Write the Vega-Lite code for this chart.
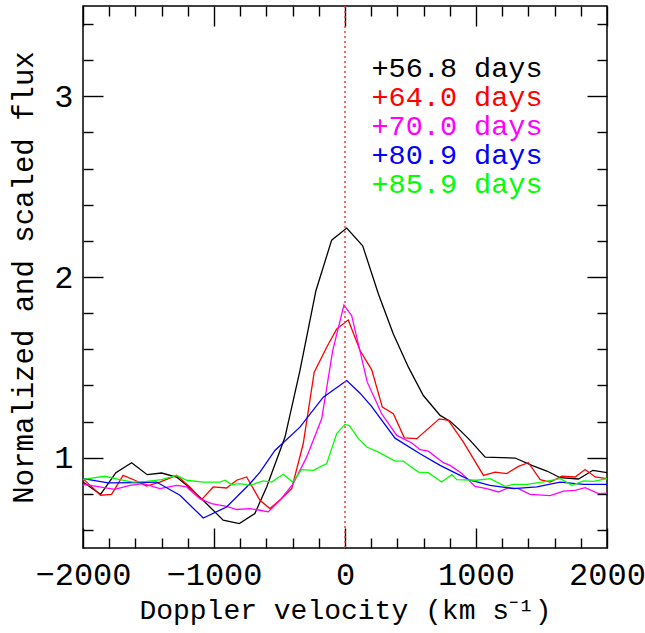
{
  "$schema": "https://vega.github.io/schema/vega-lite/v6.json",
  "autosize": {"type": "none"},
  "padding": {"left": 83, "top": 6, "right": 38, "bottom": 85},
  "width": 524,
  "height": 542,
  "background": "white",
  "config": {
    "view": {"stroke": "#000", "strokeWidth": 1.5},
    "axis": {
      "grid": false,
      "domain": false,
      "tickColor": "#000",
      "tickWidth": 1.4,
      "labelFont": "Liberation Mono",
      "labelFontSize": 32,
      "labelColor": "#000",
      "titleFont": "Liberation Mono",
      "titleFontSize": 28,
      "titleFontWeight": "normal",
      "titleColor": "#000"
    }
  },
  "datasets": {
    "spec": [
      {"s": "+56.8 days", "v": -2000, "f": 0.865}, {"s": "+56.8 days", "v": -1866, "f": 0.797}, {"s": "+56.8 days", "v": -1749, "f": 0.917}, {"s": "+56.8 days", "v": -1629, "f": 0.972}, {"s": "+56.8 days", "v": -1510, "f": 0.906}, {"s": "+56.8 days", "v": -1400, "f": 0.915}, {"s": "+56.8 days", "v": -1286, "f": 0.893}, {"s": "+56.8 days", "v": -1209, "f": 0.847}, {"s": "+56.8 days", "v": -1095, "f": 0.773}, {"s": "+56.8 days", "v": -930, "f": 0.654}, {"s": "+56.8 days", "v": -807, "f": 0.635}, {"s": "+56.8 days", "v": -688, "f": 0.691}, {"s": "+56.8 days", "v": -598, "f": 0.838}, {"s": "+56.8 days", "v": -458, "f": 1.114}, {"s": "+56.8 days", "v": -344, "f": 1.482}, {"s": "+56.8 days", "v": -222, "f": 1.924}, {"s": "+56.8 days", "v": -102, "f": 2.204}, {"s": "+56.8 days", "v": 13, "f": 2.271}, {"s": "+56.8 days", "v": 135, "f": 2.173}, {"s": "+56.8 days", "v": 255, "f": 1.906}, {"s": "+56.8 days", "v": 369, "f": 1.685}, {"s": "+56.8 days", "v": 484, "f": 1.501}, {"s": "+56.8 days", "v": 598, "f": 1.344}, {"s": "+56.8 days", "v": 726, "f": 1.234}, {"s": "+56.8 days", "v": 802, "f": 1.202}, {"s": "+56.8 days", "v": 879, "f": 1.151}, {"s": "+56.8 days", "v": 955, "f": 1.096}, {"s": "+56.8 days", "v": 1070, "f": 1.003}, {"s": "+56.8 days", "v": 1299, "f": 0.998}, {"s": "+56.8 days", "v": 1426, "f": 0.957}, {"s": "+56.8 days", "v": 1541, "f": 0.926}, {"s": "+56.8 days", "v": 1643, "f": 0.889}, {"s": "+56.8 days", "v": 1783, "f": 0.882}, {"s": "+56.8 days", "v": 1892, "f": 0.930}, {"s": "+56.8 days", "v": 2000, "f": 0.917},

      {"s": "+64.0 days", "v": -2000, "f": 0.884}, {"s": "+64.0 days", "v": -1866, "f": 0.792}, {"s": "+64.0 days", "v": -1782, "f": 0.797}, {"s": "+64.0 days", "v": -1694, "f": 0.902}, {"s": "+64.0 days", "v": -1604, "f": 0.875}, {"s": "+64.0 days", "v": -1515, "f": 0.843}, {"s": "+64.0 days", "v": -1413, "f": 0.865}, {"s": "+64.0 days", "v": -1286, "f": 0.902}, {"s": "+64.0 days", "v": -1184, "f": 0.838}, {"s": "+64.0 days", "v": -1095, "f": 0.768}, {"s": "+64.0 days", "v": -1006, "f": 0.838}, {"s": "+64.0 days", "v": -904, "f": 0.832}, {"s": "+64.0 days", "v": -827, "f": 0.875}, {"s": "+64.0 days", "v": -751, "f": 0.893}, {"s": "+64.0 days", "v": -649, "f": 0.764}, {"s": "+64.0 days", "v": -573, "f": 0.718}, {"s": "+64.0 days", "v": -490, "f": 0.77}, {"s": "+64.0 days", "v": -407, "f": 0.829}, {"s": "+64.0 days", "v": -319, "f": 1.077}, {"s": "+64.0 days", "v": -235, "f": 1.473}, {"s": "+64.0 days", "v": -140, "f": 1.611}, {"s": "+64.0 days", "v": -63, "f": 1.713}, {"s": "+64.0 days", "v": 25, "f": 1.762}, {"s": "+64.0 days", "v": 115, "f": 1.593}, {"s": "+64.0 days", "v": 204, "f": 1.486}, {"s": "+64.0 days", "v": 285, "f": 1.280}, {"s": "+64.0 days", "v": 369, "f": 1.243}, {"s": "+64.0 days", "v": 453, "f": 1.110}, {"s": "+64.0 days", "v": 548, "f": 1.105}, {"s": "+64.0 days", "v": 720, "f": 1.215}, {"s": "+64.0 days", "v": 789, "f": 1.206}, {"s": "+64.0 days", "v": 904, "f": 1.086}, {"s": "+64.0 days", "v": 1057, "f": 0.902}, {"s": "+64.0 days", "v": 1146, "f": 0.920}, {"s": "+64.0 days", "v": 1235, "f": 0.912}, {"s": "+64.0 days", "v": 1324, "f": 0.952}, {"s": "+64.0 days", "v": 1400, "f": 0.972}, {"s": "+64.0 days", "v": 1490, "f": 0.878}, {"s": "+64.0 days", "v": 1566, "f": 0.865}, {"s": "+64.0 days", "v": 1655, "f": 0.897}, {"s": "+64.0 days", "v": 1757, "f": 0.893}, {"s": "+64.0 days", "v": 1833, "f": 0.934}, {"s": "+64.0 days", "v": 1910, "f": 0.893}, {"s": "+64.0 days", "v": 2000, "f": 0.884},

      {"s": "+70.0 days", "v": -2000, "f": 0.852}, {"s": "+70.0 days", "v": -1872, "f": 0.838}, {"s": "+70.0 days", "v": -1757, "f": 0.825}, {"s": "+70.0 days", "v": -1642, "f": 0.847}, {"s": "+70.0 days", "v": -1541, "f": 0.856}, {"s": "+70.0 days", "v": -1413, "f": 0.829}, {"s": "+70.0 days", "v": -1286, "f": 0.847}, {"s": "+70.0 days", "v": -1209, "f": 0.838}, {"s": "+70.0 days", "v": -1108, "f": 0.773}, {"s": "+70.0 days", "v": -1018, "f": 0.746}, {"s": "+70.0 days", "v": -904, "f": 0.731}, {"s": "+70.0 days", "v": -827, "f": 0.713}, {"s": "+70.0 days", "v": -726, "f": 0.718}, {"s": "+70.0 days", "v": -649, "f": 0.709}, {"s": "+70.0 days", "v": -586, "f": 0.700}, {"s": "+70.0 days", "v": -497, "f": 0.764}, {"s": "+70.0 days", "v": -395, "f": 0.856}, {"s": "+70.0 days", "v": -293, "f": 1.003}, {"s": "+70.0 days", "v": -178, "f": 1.215}, {"s": "+70.0 days", "v": -94, "f": 1.593}, {"s": "+70.0 days", "v": -8, "f": 1.845}, {"s": "+70.0 days", "v": 51, "f": 1.786}, {"s": "+70.0 days", "v": 170, "f": 1.418}, {"s": "+70.0 days", "v": 280, "f": 1.243}, {"s": "+70.0 days", "v": 395, "f": 1.123}, {"s": "+70.0 days", "v": 510, "f": 1.081}, {"s": "+70.0 days", "v": 573, "f": 1.044}, {"s": "+70.0 days", "v": 636, "f": 1.036}, {"s": "+70.0 days", "v": 751, "f": 0.972}, {"s": "+70.0 days", "v": 802, "f": 0.957}, {"s": "+70.0 days", "v": 892, "f": 0.912}, {"s": "+70.0 days", "v": 993, "f": 0.841}, {"s": "+70.0 days", "v": 1082, "f": 0.829}, {"s": "+70.0 days", "v": 1171, "f": 0.810}, {"s": "+70.0 days", "v": 1248, "f": 0.834}, {"s": "+70.0 days", "v": 1324, "f": 0.829}, {"s": "+70.0 days", "v": 1413, "f": 0.797}, {"s": "+70.0 days", "v": 1566, "f": 0.790}, {"s": "+70.0 days", "v": 1668, "f": 0.815}, {"s": "+70.0 days", "v": 1757, "f": 0.819}, {"s": "+70.0 days", "v": 1833, "f": 0.834}, {"s": "+70.0 days", "v": 1935, "f": 0.801}, {"s": "+70.0 days", "v": 2000, "f": 0.804},

      {"s": "+80.9 days", "v": -2000, "f": 0.884}, {"s": "+80.9 days", "v": -1808, "f": 0.860}, {"s": "+80.9 days", "v": -1566, "f": 0.862}, {"s": "+80.9 days", "v": -1439, "f": 0.865}, {"s": "+80.9 days", "v": -1260, "f": 0.792}, {"s": "+80.9 days", "v": -1082, "f": 0.666}, {"s": "+80.9 days", "v": -904, "f": 0.727}, {"s": "+80.9 days", "v": -726, "f": 0.856}, {"s": "+80.9 days", "v": -649, "f": 0.920}, {"s": "+80.9 days", "v": -535, "f": 1.040}, {"s": "+80.9 days", "v": -344, "f": 1.169}, {"s": "+80.9 days", "v": -166, "f": 1.335}, {"s": "+80.9 days", "v": 13, "f": 1.427}, {"s": "+80.9 days", "v": 115, "f": 1.357}, {"s": "+80.9 days", "v": 204, "f": 1.283}, {"s": "+80.9 days", "v": 382, "f": 1.108}, {"s": "+80.9 days", "v": 573, "f": 1.022}, {"s": "+80.9 days", "v": 726, "f": 0.957}, {"s": "+80.9 days", "v": 879, "f": 0.902}, {"s": "+80.9 days", "v": 955, "f": 0.875}, {"s": "+80.9 days", "v": 1108, "f": 0.847}, {"s": "+80.9 days", "v": 1286, "f": 0.829}, {"s": "+80.9 days", "v": 1464, "f": 0.838}, {"s": "+80.9 days", "v": 1643, "f": 0.865}, {"s": "+80.9 days", "v": 1821, "f": 0.852}, {"s": "+80.9 days", "v": 2000, "f": 0.852},

      {"s": "+85.9 days", "v": -2000, "f": 0.880}, {"s": "+85.9 days", "v": -1833, "f": 0.897}, {"s": "+85.9 days", "v": -1719, "f": 0.878}, {"s": "+85.9 days", "v": -1617, "f": 0.865}, {"s": "+85.9 days", "v": -1515, "f": 0.869}, {"s": "+85.9 days", "v": -1400, "f": 0.878}, {"s": "+85.9 days", "v": -1286, "f": 0.902}, {"s": "+85.9 days", "v": -1209, "f": 0.875}, {"s": "+85.9 days", "v": -1082, "f": 0.865}, {"s": "+85.9 days", "v": -955, "f": 0.865}, {"s": "+85.9 days", "v": -917, "f": 0.875}, {"s": "+85.9 days", "v": -866, "f": 0.851}, {"s": "+85.9 days", "v": -802, "f": 0.856}, {"s": "+85.9 days", "v": -726, "f": 0.847}, {"s": "+85.9 days", "v": -624, "f": 0.871}, {"s": "+85.9 days", "v": -560, "f": 0.865}, {"s": "+85.9 days", "v": -471, "f": 0.908}, {"s": "+85.9 days", "v": -400, "f": 0.865}, {"s": "+85.9 days", "v": -331, "f": 0.934}, {"s": "+85.9 days", "v": -242, "f": 0.930}, {"s": "+85.9 days", "v": -140, "f": 0.967}, {"s": "+85.9 days", "v": -63, "f": 1.133}, {"s": "+85.9 days", "v": 0, "f": 1.184}, {"s": "+85.9 days", "v": 33, "f": 1.178}, {"s": "+85.9 days", "v": 102, "f": 1.105}, {"s": "+85.9 days", "v": 166, "f": 1.059}, {"s": "+85.9 days", "v": 255, "f": 1.031}, {"s": "+85.9 days", "v": 382, "f": 0.981}, {"s": "+85.9 days", "v": 446, "f": 0.981}, {"s": "+85.9 days", "v": 497, "f": 0.952}, {"s": "+85.9 days", "v": 560, "f": 0.920}, {"s": "+85.9 days", "v": 636, "f": 0.917}, {"s": "+85.9 days", "v": 738, "f": 0.865}, {"s": "+85.9 days", "v": 815, "f": 0.906}, {"s": "+85.9 days", "v": 853, "f": 0.878}, {"s": "+85.9 days", "v": 1006, "f": 0.875}, {"s": "+85.9 days", "v": 1108, "f": 0.884}, {"s": "+85.9 days", "v": 1222, "f": 0.841}, {"s": "+85.9 days", "v": 1286, "f": 0.852}, {"s": "+85.9 days", "v": 1388, "f": 0.852}, {"s": "+85.9 days", "v": 1502, "f": 0.865}, {"s": "+85.9 days", "v": 1643, "f": 0.884}, {"s": "+85.9 days", "v": 1732, "f": 0.847}, {"s": "+85.9 days", "v": 1821, "f": 0.871}, {"s": "+85.9 days", "v": 1897, "f": 0.869}, {"s": "+85.9 days", "v": 2000, "f": 0.884}
    ],
    "zero": [{"v": 0}]
  },
  "resolve": {"axis": {"x": "independent", "y": "independent"}},
  "layer": [
    {
      "data": {"name": "spec"},
      "mark": {"type": "line", "strokeWidth": 1.3, "interpolate": "linear"},
      "encoding": {
        "x": {
          "field": "v", "type": "quantitative",
          "scale": {"domain": [-2000, 2000], "nice": false, "zero": false},
          "axis": {
            "orient": "bottom",
            "values": [-2000, -1800, -1600, -1400, -1200, -1000, -800, -600, -400, -200, 0, 200, 400, 600, 800, 1000, 1200, 1400, 1600, 1800, 2000],
            "format": "d",
            "labelExpr": "datum.value % 1000 === 0 ? datum.label : ''",
            "tickSize": {"condition": {"test": "datum.value % 1000 === 0", "value": -20}, "value": -10},
            "labelPadding": 31,
            "labelFlush": false,
            "labelOverlap": false,
            "title": "Doppler velocity (km s⁻¹)",
            "titleY": 70,
            "titleBaseline": "alphabetic"
          }
        },
        "y": {
          "field": "f", "type": "quantitative",
          "scale": {"domain": [0.5, 3.5], "nice": false, "zero": false},
          "axis": {
            "orient": "left",
            "values": [0.6, 0.8, 1, 1.2, 1.4, 1.6, 1.8, 2, 2.2, 2.4, 2.6, 2.8, 3, 3.2, 3.4],
            "labelExpr": "datum.value % 1 === 0 ? format(datum.value, 'd') : ''",
            "tickSize": {"condition": {"test": "datum.value % 1 === 0", "value": -20}, "value": -10},
            "labelPadding": 30,
            "labelFlush": false,
            "labelOverlap": false,
            "title": "Normalized and scaled flux",
            "titleFontSize": 29,
            "titleX": -51,
            "titleY": 271,
            "titleAngle": 270,
            "titleAlign": "center",
            "titleBaseline": "alphabetic"
          }
        },
        "color": {
          "field": "s", "type": "nominal",
          "scale": {
            "domain": ["+56.8 days", "+64.0 days", "+70.0 days", "+80.9 days", "+85.9 days"],
            "range": ["#000000", "#ff0000", "#ff00ff", "#0000ff", "#00ff00"]
          },
          "legend": {
            "orient": "none",
            "legendX": 260,
            "legendY": 48,
            "title": null,
            "symbolSize": 0,
            "symbolStrokeWidth": 0,
            "symbolOpacity": 0,
            "labelOffset": 0,
            "labelFont": "Liberation Mono",
            "labelFontSize": 28.5,
            "labelLimit": 400,
            "rowPadding": -1,
            "padding": 0,
            "encode": {"labels": {"update": {"fill": {"scale": "color", "field": "value"}}}}
          }
        }
      }
    },
    {
      "data": {"name": "spec"},
      "mark": {"type": "line", "opacity": 0},
      "encoding": {
        "x": {
          "field": "v", "type": "quantitative",
          "scale": {"domain": [-2000, 2000], "nice": false, "zero": false},
          "axis": {
            "orient": "top",
            "values": [-2000, -1800, -1600, -1400, -1200, -1000, -800, -600, -400, -200, 0, 200, 400, 600, 800, 1000, 1200, 1400, 1600, 1800, 2000],
            "labels": false,
            "tickSize": {"condition": {"test": "datum.value % 1000 === 0", "value": -20}, "value": -10},
            "title": null
          }
        },
        "y": {
          "field": "f", "type": "quantitative",
          "scale": {"domain": [0.5, 3.5], "nice": false, "zero": false},
          "axis": {
            "orient": "right",
            "values": [0.6, 0.8, 1, 1.2, 1.4, 1.6, 1.8, 2, 2.2, 2.4, 2.6, 2.8, 3, 3.2, 3.4],
            "labels": false,
            "tickSize": {"condition": {"test": "datum.value % 1 === 0", "value": -20}, "value": -10},
            "title": null
          }
        },
        "detail": {"field": "s", "type": "nominal"}
      }
    },
    {
      "data": {"name": "zero"},
      "mark": {"type": "rule", "color": "#ff3030", "strokeWidth": 1.5, "strokeDash": [2, 3]},
      "encoding": {
        "x": {"field": "v", "type": "quantitative", "axis": null}
      }
    }
  ]
}
